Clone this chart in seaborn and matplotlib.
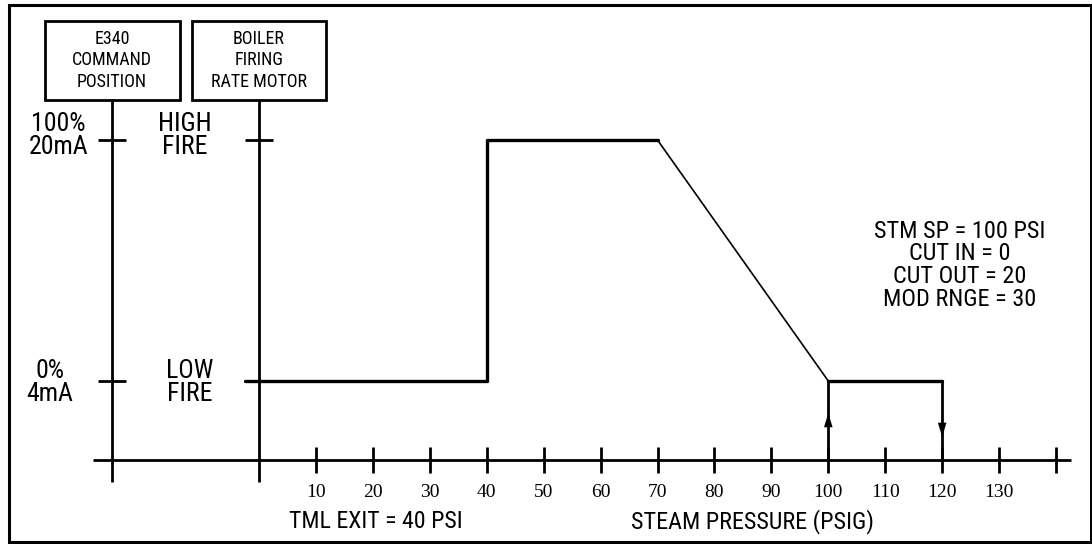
import matplotlib
matplotlib.use("Agg")
import matplotlib.pyplot as plt
import seaborn as sns
from matplotlib.patches import Rectangle

# Firing rate (percent of span) versus steam pressure (PSIG)
pressure_to_high = [0, 40, 40, 70]
rate_to_high = [0, 0, 100, 100]
pressure_modulating = [70, 100]
rate_modulating = [100, 0]
pressure_low_hold = [100, 120]
rate_low_hold = [0, 0]
cut_in_pressure = 100
cut_out_pressure = 120

tick_values = [10, 20, 30, 40, 50, 60, 70, 80, 90, 100, 110, 120, 130, 140]
tick_labels = ["10", "20", "30", "40", "50", "60", "70", "80", "90", "100", "110", "120", "130", ""]

settings_lines = ["STM SP = 100 PSI", "CUT IN = 0", "CUT OUT = 20", "MOD RNGE = 30"]

sns.set_style("white")
plt.rcParams["font.family"] = ["Roboto Condensed", "Archivo Narrow", "DejaVu Sans"]
plt.rcParams["text.color"] = "black"
serif = ["Liberation Serif", "DejaVu Serif"]

W, H, DPI = 1092, 544, 100
fig = plt.figure(figsize=(W / DPI, H / DPI), dpi=DPI)
ax = fig.add_axes([0, 0, 1, 1])
ax.set_xlim(-45.49, 146.32)
ax.set_ylim(-67.63, 158.09)
ax.axis("off")

LW = 2.0
axis_y = -32.8
tick_half = 5.4
vline_bottom = -41.9
box_bottom, box_top = 116.6, 149.4
e340_x = -25.8
rate_x = 0.0
box_half = 11.85
tick_w = 2.46

# Outer frame
fig.patches.append(Rectangle((9 / W, 2 / H), 1082 / W, 537 / H, transform=fig.transFigure,
                             fill=False, edgecolor="black", linewidth=2.2))

# Horizontal pressure axis with ticks
ax.plot([-29.2, 142.6], [axis_y, axis_y], color="black", lw=LW, solid_capstyle="butt")
for v, lab in zip(tick_values, tick_labels):
    ax.plot([v, v], [axis_y - tick_half, axis_y + tick_half], color="black", lw=LW,
            solid_capstyle="butt")
    if lab:
        ax.text(v, -46.1, lab, ha="center", va="center", fontsize=14, family=serif)

ax.text(20.6, -58.5, "TML EXIT = 40 PSI", ha="center", va="center", fontsize=17.2)
ax.text(86.6, -58.5, "STEAM PRESSURE (PSIG)", ha="center", va="center", fontsize=17.4)

# Two vertical scales with their boxes
for xc, title in [(e340_x, "E340\nCOMMAND\nPOSITION"), (rate_x, "BOILER\nFIRING\nRATE MOTOR")]:
    ax.plot([xc, xc], [vline_bottom, box_bottom], color="black", lw=LW, solid_capstyle="butt")
    ax.add_patch(Rectangle((xc - box_half, box_bottom), 2 * box_half, box_top - box_bottom,
                           fill=False, edgecolor="black", lw=LW))
    ax.text(xc, 133.0, title, ha="center", va="center", fontsize=13, linespacing=1.25)
    ax.plot([xc - tick_w, xc + tick_w], [100, 100], color="black", lw=LW, solid_capstyle="butt")
ax.plot([e340_x - tick_w, e340_x + tick_w], [0, 0], color="black", lw=LW, solid_capstyle="butt")

ax.text(-35.2, 101.9, "100%\n20mA", ha="center", va="center", fontsize=18.5, linespacing=0.92)
ax.text(-36.7, -0.6, "0%\n4mA", ha="center", va="center", fontsize=18.5, linespacing=0.92)
ax.text(-13.0, 101.9, "HIGH\nFIRE", ha="center", va="center", fontsize=18.5, linespacing=0.92)
ax.text(-12.1, -0.6, "LOW\nFIRE", ha="center", va="center", fontsize=18.5, linespacing=0.92)

# Firing rate curve
sns.lineplot(x=[-tick_w] + pressure_to_high, y=[0] + rate_to_high, sort=False,
             estimator=None, color="black", lw=2.4, ax=ax)
sns.lineplot(x=pressure_modulating, y=rate_modulating, sort=False, estimator=None,
             color="black", lw=1.2, ax=ax)
sns.lineplot(x=pressure_low_hold, y=rate_low_hold, sort=False, estimator=None,
             color="black", lw=2.4, ax=ax)

# Cut-in (rising) and cut-out (falling) transitions
ax.plot([cut_in_pressure, cut_in_pressure], [axis_y, 0], color="black", lw=2.0)
ax.plot([cut_out_pressure, cut_out_pressure], [axis_y, 0], color="black", lw=2.0)
arrow = dict(arrowstyle="-|>,head_length=1.0,head_width=0.3", mutation_scale=10,
             color="black", lw=0.1, shrinkA=0, shrinkB=0)
ax.annotate("", xy=(cut_in_pressure, -13.3), xytext=(cut_in_pressure, -19.5), arrowprops=arrow)
ax.annotate("", xy=(cut_out_pressure, -23.2), xytext=(cut_out_pressure, -17.0), arrowprops=arrow)

ax.text(123.1, 48.1, "\n".join(settings_lines), ha="center", va="center", fontsize=17.5,
        linespacing=0.98)

fig.savefig("out.png", dpi=DPI, facecolor="white")
